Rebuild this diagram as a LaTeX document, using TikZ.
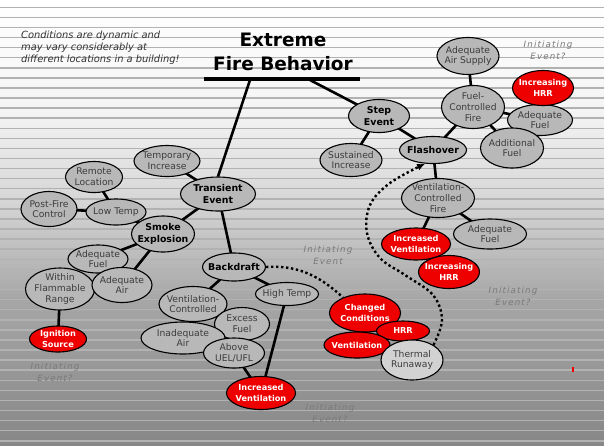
\documentclass[tikz,border=0pt]{standalone}
\usepackage{fontspec}
\setmainfont{DejaVu Sans}
\newfontfamily\spcfont[LetterSpace=13]{DejaVu Sans}
\usetikzlibrary{shapes.geometric,arrows.meta}
\pgfdeclarelayer{bg}
\pgfdeclarelayer{edges}
\pgfsetlayers{bg,edges,main}
\definecolor{nodegray}{HTML}{B8B8B8}
\definecolor{txtgray}{HTML}{3C3C3C}
\definecolor{fired}{HTML}{EE0000}
\definecolor{thermal}{HTML}{D2D2D2}
\definecolor{lblgray}{HTML}{7A7A7A}
\definecolor{bgA}{HTML}{F4F4F4}
\definecolor{bgB}{HTML}{D6D6D6}
\definecolor{bgC}{HTML}{A6A6A6}
\definecolor{bgD}{HTML}{878787}
\definecolor{stripecol}{HTML}{B2B2B2}
\definecolor{notecol}{HTML}{333333}
\tikzset{
  el/.style={ellipse, draw=black, line width=1.1pt, fill=nodegray, inner sep=0pt},
  rd/.style={el, fill=fired},
  lt/.style={el, fill=thermal},
  tx/.style={align=center, font=\fontsize{9.2}{10.8}\selectfont, text=txtgray, inner sep=0pt},
  bt/.style={align=center, font=\fontsize{9.4}{11.5}\selectfont\bfseries, text=black, inner sep=0pt},
  wt/.style={align=center, font=\fontsize{8.2}{11}\selectfont\bfseries, text=white, inner sep=0pt},
  conn/.style={line width=2.6pt, black},
  dots/.style={line width=2.4pt, black, dash pattern=on 2.4pt off 2.6pt},
  initlbl/.style={align=center, font=\fontsize{8.7}{12}\selectfont\spcfont\itshape, text=lblgray, inner sep=0pt},
  stripe/.style={line width=1.5pt, stripecol},
}
% style, name, position, width, height, text style, text
\newcommand\EN[7]{%
  \node[#1, minimum width=#4, minimum height=#5] (#2) at (#3) {};
  \node[#6] (#2-t) at (#2.center) {#7};
}
\begin{document}
\begin{tikzpicture}[x=1pt,y=-1pt]
\useasboundingbox (0,0) rectangle (604,445);
\begin{pgfonlayer}{bg}
  \shade[top color=white, bottom color=bgA] (0,0) rectangle (604,110);
  \shade[top color=bgA, bottom color=bgB] (0,110) rectangle (604,200);
  \shade[top color=bgB, bottom color=bgC] (0,200) rectangle (604,300);
  \shade[top color=bgC, bottom color=bgD] (0,300) rectangle (604,445);
  \foreach \k in {0,...,43} \draw[stripe] (0,{7.3+10.08*\k}) -- (604,{7.3+10.08*\k});
\end{pgfonlayer}

% title and note
\node[align=center, font=\fontsize{18.5}{24}\selectfont\bfseries, inner sep=0pt] (title) at (283,52) {Extreme\\Fire Behavior};
\coordinate (barL) at (204,79);
\coordinate (barR) at (360,79);
\draw[line width=4pt] (barL) -- (barR);
\coordinate (t1) at (250,80);
\coordinate (t2) at (310,80);
\node[anchor=north west, align=left, font=\fontsize{9.9}{12}\selectfont\itshape, text=notecol, inner sep=0pt] (note) at (21,31) {Conditions are dynamic and\\may vary considerably at\\different locations in a building!};

% initiating labels
\node[initlbl] (i1) at (548,50) {Initiating\\Event?};
\node[initlbl] (i2) at (328,255) {Initiating\\Event};
\node[initlbl] (i3) at (513,296) {Initiating\\Event?};
\node[initlbl] (i4) at (55,372) {Initiating\\Event?};
\node[initlbl] (i5) at (330,413) {Initiating\\Event?};

% nodes
\EN{el}{ats}{468,56}{62}{37}{tx}{Adequate\\Air Supply}
\EN{el}{fcf}{473,107}{63}{43}{tx}{Fuel-\\Controlled\\Fire}
\EN{el}{af1}{540,120}{65}{31}{tx}{Adequate\\Fuel}
\EN{rd}{ihrr1}{543,88}{61}{35}{wt}{Increasing\\HRR}
\EN{el}{adf}{512,148}{63}{40}{tx}{Additional\\Fuel}
\EN{el}{step}{379,116}{61}{33}{bt}{Step\\Event}
\EN{el}{flash}{433,150}{67}{27}{bt}{Flashover}
\EN{el}{si}{351,160}{62}{33}{tx}{Sustained\\Increase}
\EN{el}{ti}{167,161}{66}{31}{tx}{Temporary\\Increase}
\EN{el}{rl}{94,177}{57}{31}{tx}{Remote\\Location}
\EN{el}{pfc}{49,209}{56}{35}{tx}{Post-Fire\\Control}
\EN{el}{lowt}{116,212}{60}{26}{tx}{Low Temp}
\EN{el}{trans}{218,194}{75}{34}{bt}{Transient\\Event}
\EN{el}{smoke}{163,234}{63}{36}{bt}{Smoke\\Explosion}
\EN{el}{bd}{234,267}{63}{28}{bt}{Backdraft}
\EN{el}{af2}{98,259}{60}{28}{tx}{Adequate\\Fuel}
\EN{el}{wfr}{60,289}{69}{42}{tx}{Within\\Flammable\\Range}
\EN{el}{aa}{122,285}{60}{35}{tx}{Adequate\\Air}
\EN{rd}{is}{58,339}{57}{26}{wt}{Ignition\\Source}
\EN{el}{ht}{287,294}{63}{23}{tx}{High Temp}
\EN{el}{vc}{193,304}{68}{35}{tx}{Ventilation-\\Controlled}
\EN{el}{ef}{242,324}{55}{33}{tx}{Excess\\Fuel}
\EN{el}{ia}{183,338}{84}{32}{tx}{Inadequate\\Air}
\EN{el}{auel}{234,353}{61}{30}{tx}{Above\\UEL/UFL}
\EN{rd}{iv2}{261,393}{69}{33}{wt}{Increased\\Ventilation}
\EN{el}{vcf}{438,198}{73}{39}{tx}{Ventilation-\\Controlled\\Fire}
\EN{el}{af3}{490,234}{73}{30}{tx}{Adequate\\Fuel}
\EN{rd}{iv1}{416,244}{69}{32}{wt}{Increased\\Ventilation}
\EN{rd}{ihrr2}{449,272}{61}{33}{wt}{Increasing\\HRR}
\EN{rd}{cc}{365,313}{71}{38}{wt}{Changed\\Conditions}
\EN{rd}{hrr}{403,331}{53}{20}{wt}{HRR}
\EN{rd}{vent}{357,345}{66}{26}{wt}{Ventilation}
\EN{lt}{tr}{412,360}{62}{40}{tx}{Thermal\\Runaway}

% red mark
\fill[fired] (572,367) rectangle (574,372);

% connectors
\begin{pgfonlayer}{edges}
  \draw[conn] (t1) -- (trans.north);
  \draw[conn] (t2) -- (step.center);
  \draw[conn] (trans.center) -- (bd.center);
  \draw[conn] (trans.center) -- (ti.center);
  \draw[conn] (trans.center) -- (smoke.center);
  \draw[conn] (smoke.center) -- (lowt.center);
  \draw[conn] (lowt.center) -- (rl.center);
  \draw[conn] (lowt.center) -- (pfc.center);
  \draw[conn] (smoke.center) -- (af2.center);
  \draw[conn] (smoke.center) -- (aa.center);
  \draw[conn] (wfr.center) -- (is.center);
  \draw[conn] (bd.center) -- (vc.center);
  \draw[conn] (bd.center) -- (ht.center);
  \draw[conn] (ht.center) -- (iv2.75);
  \draw[conn] (auel.center) -- (iv2.center);
  \draw[conn] (step.center) -- (si.center);
  \draw[conn] (step.center) -- (flash.center);
  \draw[conn] (flash.center) -- (fcf.center);
  \draw[conn] (flash.center) -- (vcf.center);
  \draw[conn] (fcf.center) -- (ats.center);
  \draw[conn] (fcf.center) -- (af1.center);
  \draw[conn] (fcf.center) -- (adf.center);
  \draw[conn] (vcf.center) -- (iv1.center);
  \draw[conn] (vcf.center) -- (af3.center);
\end{pgfonlayer}

% dotted connectors
\draw[dots] (bd.east) .. controls (295,265) and (318,274) .. (cc.145);
\draw[dots, -{Latex[length=8pt,width=7pt]}] plot[smooth, tension=0.6] coordinates {(tr.35) (442,320) (433,295) (405,275) (380,258) (367,233) (370,205) (390,183) (flash.240)};
\end{tikzpicture}
\end{document}
